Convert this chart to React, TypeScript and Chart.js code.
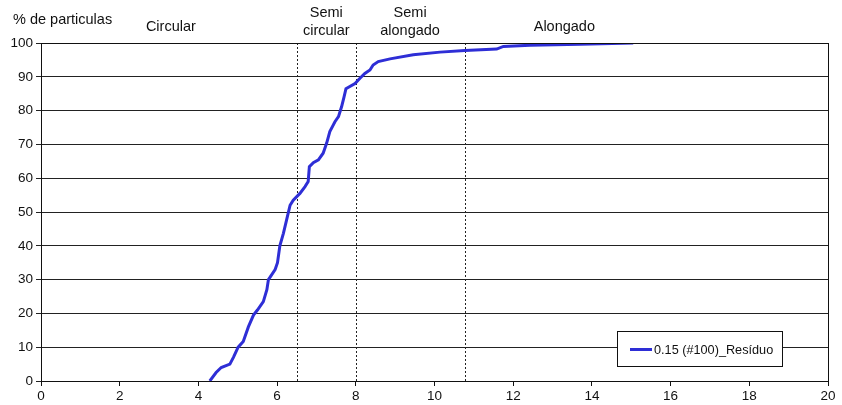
import React, { useEffect, useRef } from "react";
import { Chart, registerables } from "chart.js";

Chart.register(...registerables);

const seriesLabel = "0.15 (#100)_Resíduo";
const xValues = [
  4.29, 4.45, 4.58, 4.8, 4.89, 5.01, 5.14, 5.27, 5.4, 5.5, 5.65, 5.74, 5.78, 5.95, 6.01, 6.07,
  6.16, 6.24, 6.33, 6.41, 6.58, 6.71, 6.79, 6.82, 6.92, 7.05, 7.17, 7.26, 7.34, 7.47, 7.56,
  7.64, 7.7, 7.75, 7.98, 8.1, 8.23, 8.36, 8.44, 8.57, 8.87, 9.46, 10.14, 10.77, 11.58, 11.75,
  12.43, 13.7, 15.05,
];
const yValues = [
  0, 2.5, 4, 5, 7, 10, 11.7, 16, 19.5, 21, 23.5, 27, 30, 33, 35, 40,
  43.7, 47.6, 52, 53.5, 55.5, 57.5, 59, 63.4, 64.6, 65.4, 67.4, 70.4, 73.8, 76.7, 78.2,
  81.2, 84, 86.5, 88, 89.5, 91, 92, 93.5, 94.5, 95.3, 96.5, 97.3, 97.8, 98.2, 99,
  99.3, 99.6, 100,
];
const zoneBoundaries = [6.5, 8, 10.77];
const zoneNames = [["Circular"], ["Semi", "circular"], ["Semi", "alongado"], ["Alongado"]];
const zoneLabelAt = [3.3, 7.25, 9.38, 13.3];
const yTitle = "% de particulas";
const xTicks = [0, 2, 4, 6, 8, 10, 12, 14, 16, 18, 20];

const FONT = "'Liberation Sans', Arial, sans-serif";
const LINE_COLOR = "#2e2ed6";

const overlayPlugin = {
  id: "overlay",
  beforeDatasetsDraw(chart: any) {
    const { ctx, chartArea, scales } = chart;
    ctx.save();
    ctx.strokeStyle = "#222";
    ctx.lineWidth = 1;
    ctx.setLineDash([2, 2]);
    zoneBoundaries.forEach((b) => {
      const x = Math.round(scales.x.getPixelForValue(b)) + 0.5;
      ctx.beginPath();
      ctx.moveTo(x, chartArea.top);
      ctx.lineTo(x, chartArea.bottom);
      ctx.stroke();
    });
    ctx.restore();
  },
  afterDraw(chart: any) {
    const { ctx, chartArea, scales } = chart;
    ctx.save();
    ctx.strokeStyle = "#111";
    ctx.lineWidth = 1;
    ctx.strokeRect(
      Math.round(chartArea.left) + 0.5,
      Math.round(chartArea.top) + 0.5,
      Math.round(chartArea.right - chartArea.left),
      Math.round(chartArea.bottom - chartArea.top)
    );
    ctx.fillStyle = "#111";
    ctx.font = `14.5px ${FONT}`;
    ctx.textBaseline = "middle";
    ctx.textAlign = "left";
    ctx.fillText(yTitle, 13, 20);
    ctx.textAlign = "center";
    zoneNames.forEach((lines, i) => {
      const x = scales.x.getPixelForValue(zoneLabelAt[i]);
      if (lines.length === 1) {
        ctx.fillText(lines[0], x, 27);
      } else {
        ctx.fillText(lines[0], x, 13);
        ctx.fillText(lines[1], x, 31);
      }
    });
    const lx = 617.5, ly = 331.5, lw = 165, lh = 35;
    ctx.fillStyle = "#fff";
    ctx.fillRect(lx, ly, lw, lh);
    ctx.strokeStyle = "#111";
    ctx.strokeRect(lx, ly, lw, lh);
    ctx.strokeStyle = LINE_COLOR;
    ctx.lineWidth = 3;
    ctx.beginPath();
    ctx.moveTo(630, 349.5);
    ctx.lineTo(652, 349.5);
    ctx.stroke();
    ctx.fillStyle = "#111";
    ctx.textAlign = "left";
    ctx.font = `12.7px ${FONT}`;
    ctx.fillText(seriesLabel, 654, 350);
    ctx.restore();
  },
};

export default function App() {
  const ref = useRef<HTMLCanvasElement>(null);
  useEffect(() => {
    document.body.style.margin = "0";
    const chart = new Chart(ref.current!, {
      type: "line",
      data: {
        datasets: [
          {
            label: seriesLabel,
            data: xValues.map((x, i) => ({ x, y: yValues[i] })),
            borderColor: LINE_COLOR,
            borderWidth: 3,
            pointRadius: 0,
            tension: 0,
            fill: false,
          },
        ],
      },
      options: {
        responsive: false,
        animation: false,
        layout: { padding: { left: 0, right: 14, top: 43, bottom: 0 } },
        plugins: { legend: { display: false }, tooltip: { enabled: false } },
        scales: {
          x: {
            type: "linear",
            min: 0,
            max: 20,
            afterFit(s: any) {
              s.height = 24;
            },
            afterBuildTicks(s: any) {
              s.ticks = xTicks.map((v) => ({ value: v }));
            },
            ticks: { color: "#111", font: { family: FONT, size: 13.5 }, padding: 2, maxRotation: 0 },
            grid: { drawOnChartArea: false, drawTicks: true, tickLength: 5, color: "#111" },
            border: { display: true, color: "#111" },
          },
          y: {
            min: 0,
            max: 100,
            afterFit(s: any) {
              s.width = 41;
            },
            ticks: { stepSize: 10, color: "#111", font: { family: FONT, size: 13.5 }, padding: 3 },
            grid: { drawOnChartArea: true, drawTicks: true, tickLength: 5, color: "#222" },
            border: { display: true, color: "#111" },
          },
        },
      },
      plugins: [overlayPlugin],
    });
    return () => chart.destroy();
  }, []);
  return <canvas ref={ref} width={842} height={405} style={{ display: "block" }} />;
}
